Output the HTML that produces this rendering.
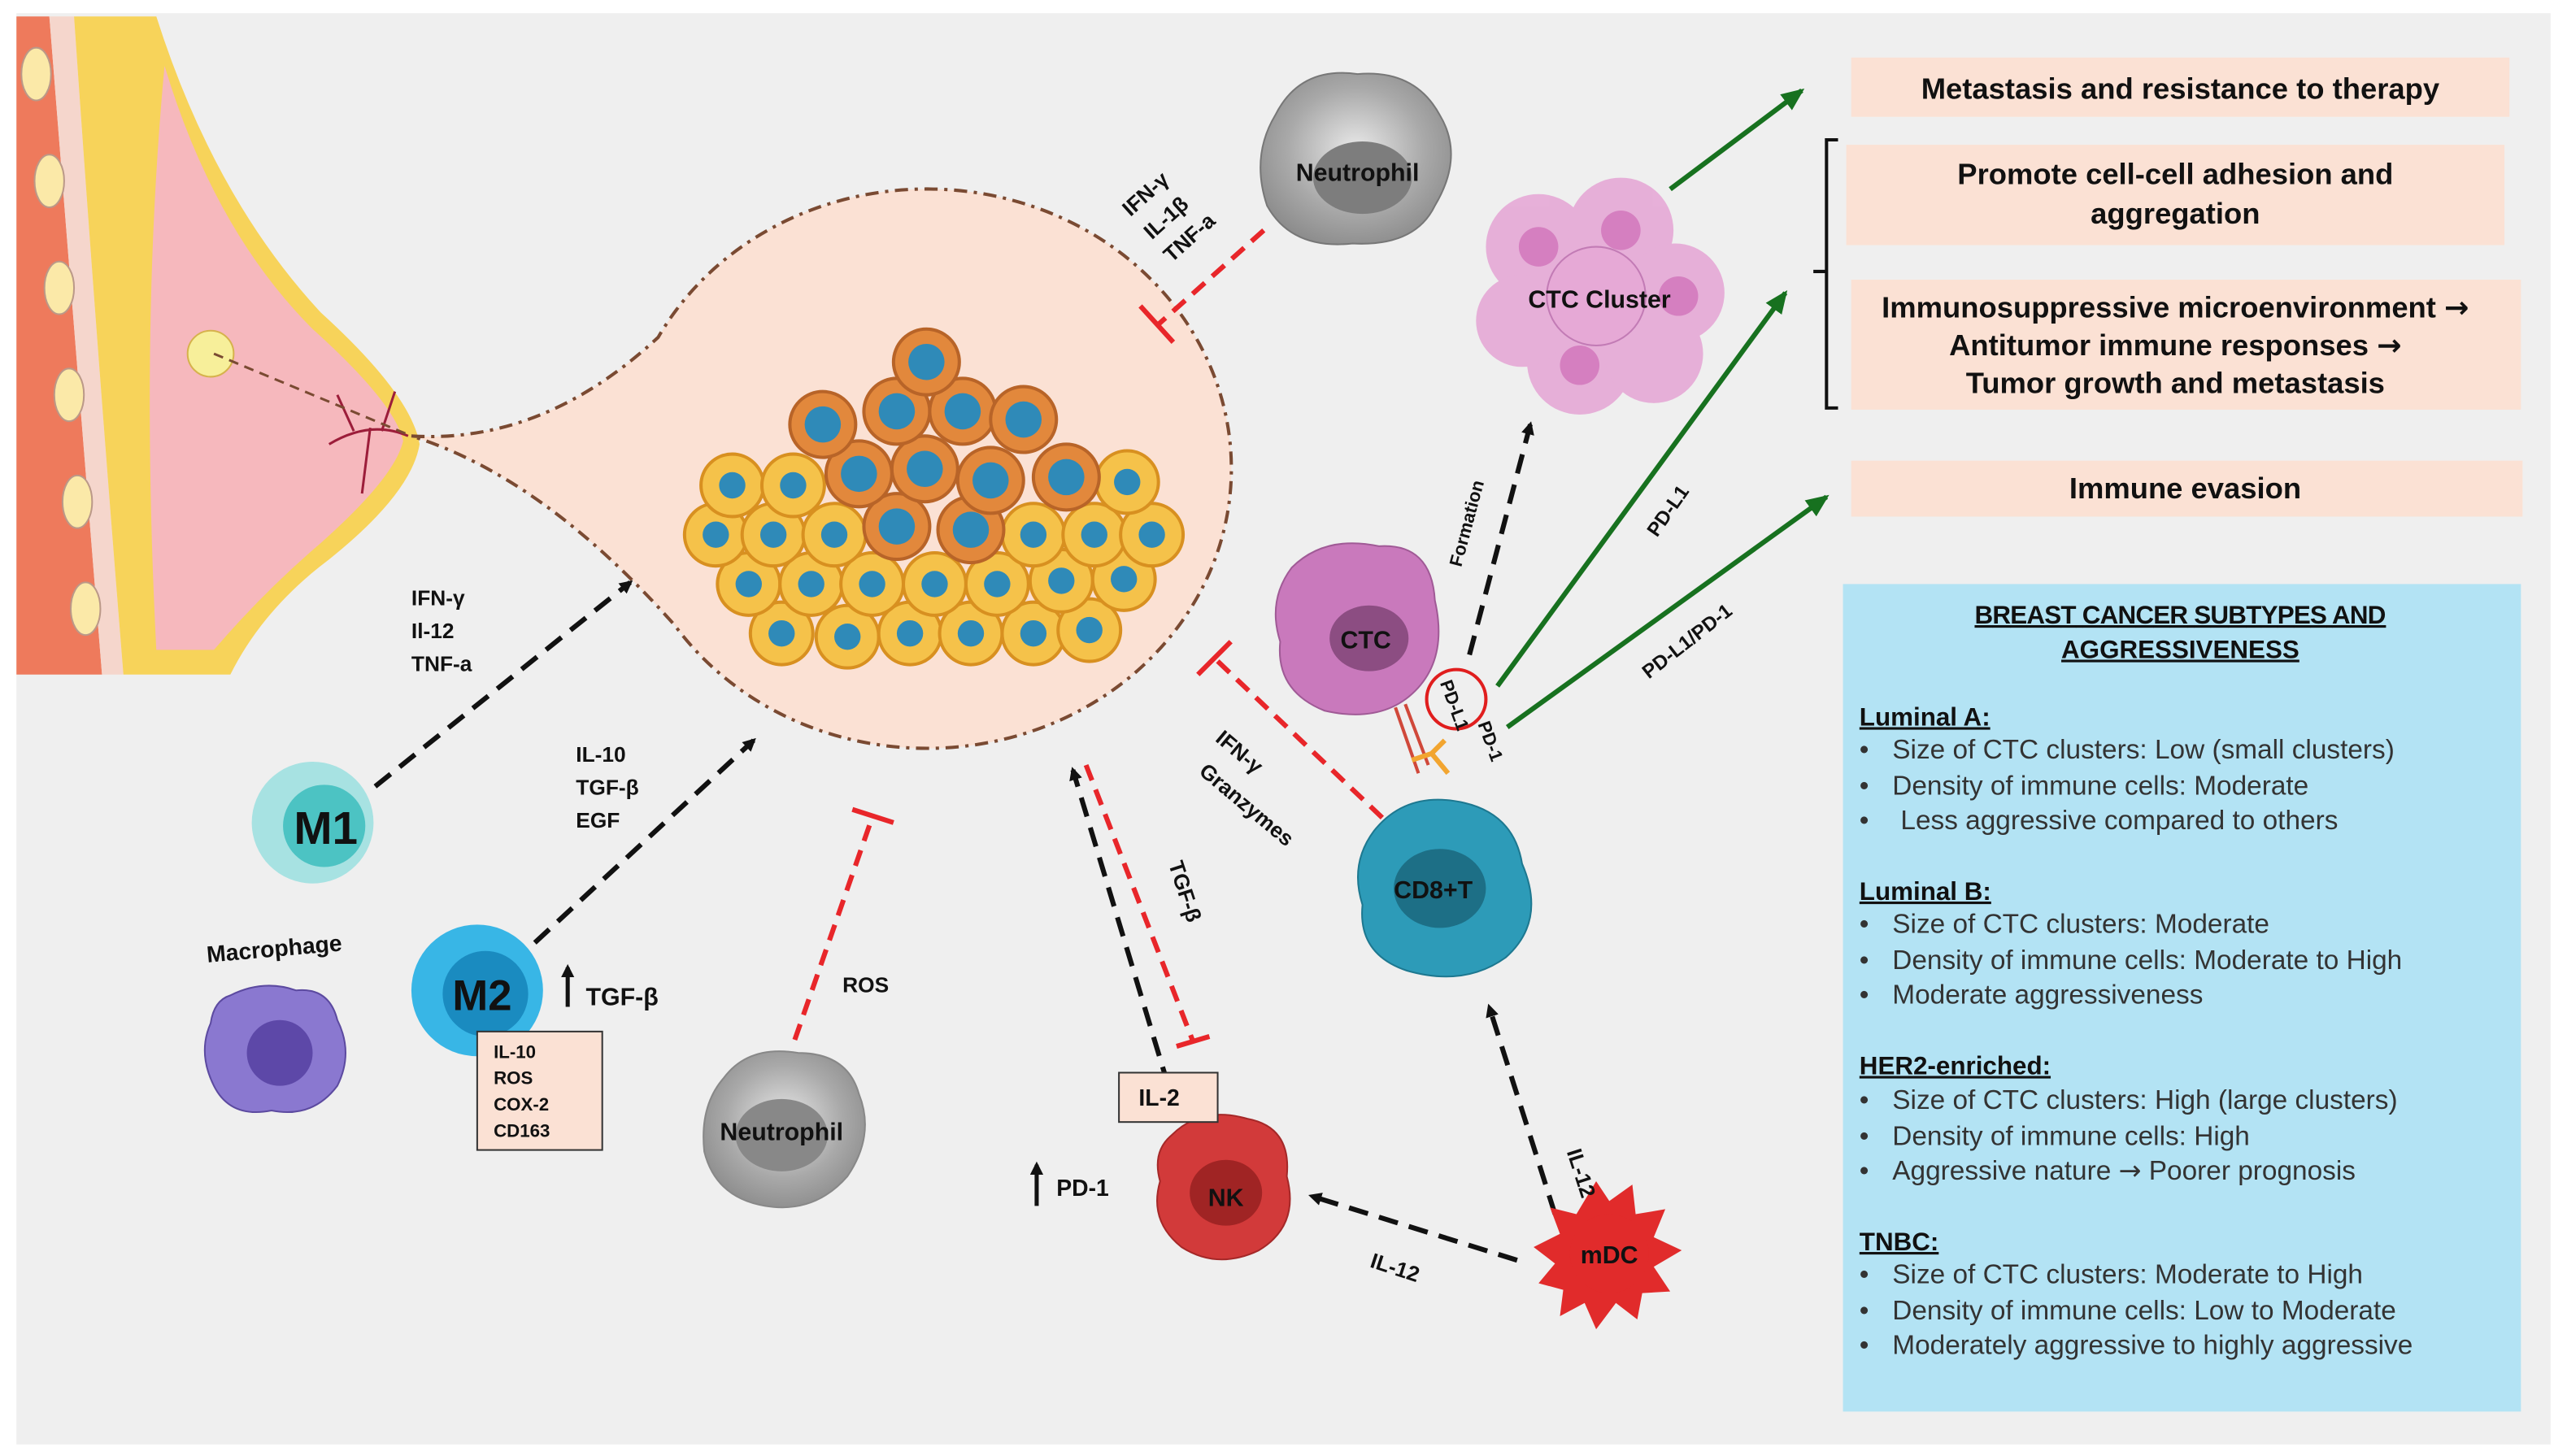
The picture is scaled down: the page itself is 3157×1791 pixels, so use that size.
<!DOCTYPE html>
<html><head><meta charset="utf-8"><style>
html,body{margin:0;padding:0;background:#fff;}
svg{display:block;}
text{font-family:"Liberation Sans",sans-serif;font-weight:bold;fill:#111;}
.n{font-weight:normal;fill:#333;}
</style></head><body>
<svg width="3157" height="1791" viewBox="0 0 1560 885" xmlns="http://www.w3.org/2000/svg">
<defs>
<marker id="ab" markerWidth="8" markerHeight="8" refX="6" refY="4" orient="auto" markerUnits="userSpaceOnUse"><path d="M0,0 L8,4 L0,8 z" fill="#111"/></marker>
<marker id="ag" markerWidth="14" markerHeight="12" refX="12" refY="6" orient="auto" markerUnits="userSpaceOnUse"><path d="M0,0 L14,6 L0,12 z" fill="#17711f"/></marker>
<radialGradient id="gy" cx="0.5" cy="0.45" r="0.6"><stop offset="0" stop-color="#e9e9e9"/><stop offset="0.6" stop-color="#a9a9a9"/><stop offset="1" stop-color="#8a8a8a"/></radialGradient>
</defs>
<rect x="0" y="0" width="1560" height="885" fill="#fff"/>
<rect x="10" y="8" width="1540" height="870" fill="#efefef"/>

<!-- breast -->
<rect x="10" y="10" width="245" height="400" fill="#efefef"/>
<path d="M10,10 L30,10 Q45,200 62,410 L10,410 Z" fill="#ee7a5c"/>
<path d="M30,10 L45,10 Q58,200 75,410 L62,410 Q45,200 30,10Z" fill="#f5d6cc"/>
<path d="M45,10 L95,10 Q130,120 195,190 Q250,240 255,270 Q250,300 200,340 Q160,370 140,410 L75,410 Q58,200 45,10Z" fill="#f7d35a"/>
<path d="M100,40 Q130,140 190,200 Q240,245 245,268 Q240,290 195,330 Q160,360 130,395 L95,395 Q85,200 100,40Z" fill="#f6b8bd"/>
<g fill="#fbe9a8" stroke="#b98" stroke-width="1">
<ellipse cx="22" cy="45" rx="9" ry="16"/><ellipse cx="30" cy="110" rx="9" ry="16"/><ellipse cx="36" cy="175" rx="9" ry="16"/><ellipse cx="42" cy="240" rx="9" ry="16"/><ellipse cx="47" cy="305" rx="9" ry="16"/><ellipse cx="52" cy="370" rx="9" ry="16"/>
</g>
<circle cx="128" cy="215" r="14" fill="#f7ef9a" stroke="#d6b24c"/>
<path d="M200,270 Q225,255 248,265 M215,262 L205,240 M225,260 L220,300 M232,262 L240,238" stroke="#9c1d3a" stroke-width="1.5" fill="none"/>

<!-- tumor bubble -->
<path d="M250,265 Q330,270 400,205 A185,170 0 1 1 410,380 Q330,290 250,265Z" fill="#fbe1d4" stroke="#7a4a32" stroke-width="2" stroke-dasharray="8,4,2,4"/>
<line x1="130" y1="215" x2="250" y2="265" stroke="#7a4a32" stroke-width="1.5" stroke-dasharray="6,4"/>

<!-- tumor cells -->
<g stroke="#d89020" stroke-width="2">
<g fill="#f5c24a">
<circle cx="475" cy="385" r="19"/><circle cx="515" cy="387" r="19"/><circle cx="553" cy="385" r="19"/><circle cx="590" cy="385" r="19"/><circle cx="628" cy="385" r="19"/><circle cx="662" cy="383" r="19"/>
<circle cx="455" cy="355" r="19"/><circle cx="493" cy="355" r="19"/><circle cx="530" cy="355" r="19"/><circle cx="568" cy="355" r="19"/><circle cx="606" cy="355" r="19"/><circle cx="645" cy="353" r="19"/><circle cx="683" cy="352" r="19"/>
<circle cx="435" cy="325" r="19"/><circle cx="470" cy="325" r="19"/><circle cx="507" cy="325" r="19"/><circle cx="628" cy="325" r="19"/><circle cx="665" cy="325" r="19"/><circle cx="700" cy="325" r="19"/>
<circle cx="445" cy="295" r="19"/><circle cx="482" cy="295" r="19"/><circle cx="685" cy="293" r="19"/>
</g>
<g fill="#e2883c" stroke="#b86428">
<circle cx="545" cy="320" r="20"/><circle cx="590" cy="322" r="20"/>
<circle cx="522" cy="288" r="20"/><circle cx="562" cy="285" r="20"/><circle cx="602" cy="292" r="20"/><circle cx="648" cy="290" r="20"/>
<circle cx="500" cy="258" r="20"/><circle cx="545" cy="250" r="20"/><circle cx="585" cy="250" r="20"/><circle cx="622" cy="255" r="20"/>
<circle cx="563" cy="220" r="20"/>
</g>
</g>
<g fill="#2f8ab8">
<circle cx="475" cy="385" r="8"/><circle cx="515" cy="387" r="8"/><circle cx="553" cy="385" r="8"/><circle cx="590" cy="385" r="8"/><circle cx="628" cy="385" r="8"/><circle cx="662" cy="383" r="8"/>
<circle cx="455" cy="355" r="8"/><circle cx="493" cy="355" r="8"/><circle cx="530" cy="355" r="8"/><circle cx="568" cy="355" r="8"/><circle cx="606" cy="355" r="8"/><circle cx="645" cy="353" r="8"/><circle cx="683" cy="352" r="8"/>
<circle cx="435" cy="325" r="8"/><circle cx="470" cy="325" r="8"/><circle cx="507" cy="325" r="8"/><circle cx="628" cy="325" r="8"/><circle cx="665" cy="325" r="8"/><circle cx="700" cy="325" r="8"/>
<circle cx="445" cy="295" r="8"/><circle cx="482" cy="295" r="8"/><circle cx="685" cy="293" r="8"/>
<circle cx="545" cy="320" r="11"/><circle cx="590" cy="322" r="11"/><circle cx="522" cy="288" r="11"/><circle cx="562" cy="285" r="11"/><circle cx="602" cy="292" r="11"/><circle cx="648" cy="290" r="11"/><circle cx="500" cy="258" r="11"/><circle cx="545" cy="250" r="11"/><circle cx="585" cy="250" r="11"/><circle cx="622" cy="255" r="11"/><circle cx="563" cy="220" r="11"/>
</g>

<!-- black dashed arrows -->
<g stroke="#111" stroke-width="3" stroke-dasharray="12,7" fill="none" marker-end="url(#ab)">
<line x1="228" y1="478" x2="383" y2="354"/>
<line x1="325" y1="573" x2="458" y2="450"/>
<line x1="710" y1="660" x2="652" y2="468"/>
<line x1="922" y1="766" x2="797" y2="727"/>
<line x1="945" y1="738" x2="905" y2="612"/>
<line x1="893" y1="398" x2="930" y2="258"/>
</g>
<!-- red inhibit lines -->
<g stroke="#e8262a" stroke-width="3" fill="none">
<line x1="768" y1="140" x2="703" y2="198" stroke-dasharray="10,6"/><line x1="693" y1="186" x2="713" y2="208"/>
<line x1="840" y1="497" x2="738" y2="400" stroke-dasharray="10,6"/><line x1="728" y1="410" x2="748" y2="390"/>
<line x1="483" y1="632" x2="530" y2="497" stroke-dasharray="10,6"/><line x1="518" y1="492" x2="543" y2="500"/>
<line x1="660" y1="465" x2="725" y2="633" stroke-dasharray="10,6"/><line x1="715" y1="636" x2="735" y2="630"/>
</g>
<!-- green arrows -->
<g stroke="#17711f" stroke-width="3" fill="none" marker-end="url(#ag)">
<line x1="1015" y1="115" x2="1095" y2="55"/>
<line x1="910" y1="417" x2="1085" y2="178"/>
<line x1="916" y1="442" x2="1110" y2="302"/>
</g>

<!-- cells -->
<path d="M775,70 Q790,40 825,45 Q860,42 875,70 Q890,95 872,125 Q860,150 822,148 Q785,152 770,125 Q760,95 775,70Z" fill="url(#gy)" stroke="#777"/>
<ellipse cx="828" cy="108" rx="30" ry="22" fill="#7d7d7d"/>
<text x="825" y="110" font-size="15" text-anchor="middle">Neutrophil</text>

<g fill="#e6a9d6" opacity="0.9">
<circle cx="935" cy="150" r="32"/><circle cx="985" cy="140" r="32"/><circle cx="1018" cy="178" r="30"/><circle cx="960" cy="220" r="32"/><circle cx="1005" cy="215" r="30"/><circle cx="925" cy="195" r="28"/>
</g>
<g fill="#d57fc0"><circle cx="935" cy="150" r="12"/><circle cx="985" cy="140" r="12"/><circle cx="1020" cy="180" r="12"/><circle cx="960" cy="222" r="12"/></g>
<circle cx="970" cy="180" r="30" fill="#e6a9d6" stroke="#c27bb5"/>
<text x="972" y="187" font-size="15" text-anchor="middle">CTC Cluster</text>

<path d="M785,345 Q805,325 838,332 Q870,330 872,365 Q880,400 860,420 Q840,440 805,432 Q775,420 778,390 Q770,365 785,345Z" fill="#c979bc" stroke="#a05a96"/>
<ellipse cx="832" cy="388" rx="24" ry="20" fill="#8c4d82"/>
<text x="830" y="394" font-size="15" text-anchor="middle">CTC</text>
<path d="M848,430 L862,470 M854,428 L868,465" stroke="#d0483a" stroke-width="2"/>
<path d="M858,462 L870,458 L880,470 M870,458 L878,450" stroke="#f2a530" stroke-width="3" fill="none"/>
<circle cx="885" cy="425" r="18" fill="none" stroke="#e01e1e" stroke-width="2"/>
<text transform="translate(875,415) rotate(70)" font-size="11">PD-L1</text>
<text transform="translate(898,440) rotate(70)" font-size="11">PD-1</text>

<path d="M835,505 Q855,480 890,488 Q920,495 925,525 Q940,560 915,582 Q890,600 855,590 Q825,580 828,550 Q820,525 835,505Z" fill="#2d9bb8" stroke="#1d7890"/>
<ellipse cx="875" cy="540" rx="28" ry="24" fill="#1d6f86"/>
<text x="871" y="546" font-size="15" text-anchor="middle">CD8+T</text>

<path d="M970,718 L978,730 L992,720 L994,738 L1012,735 L1005,752 L1022,760 L1005,770 L1015,785 L998,786 L995,802 L982,792 L970,808 L963,792 L948,800 L950,784 L935,780 L945,768 L932,758 L948,750 L942,734 L958,738Z" fill="#e12b2b"/>
<circle cx="978" cy="762" r="24" fill="#e12b2b"/>
<text x="978" y="768" font-size="15" text-anchor="middle">mDC</text>

<path d="M712,690 Q730,672 758,680 Q785,685 782,715 Q790,745 765,760 Q740,772 718,758 Q698,742 705,718 Q700,700 712,690Z" fill="#d23a3a" stroke="#a52828"/>
<ellipse cx="745" cy="725" rx="22" ry="20" fill="#a02424"/>
<text x="745" y="733" font-size="15" text-anchor="middle">NK</text>
<rect x="680" y="652" width="60" height="30" fill="#fbe1d4" stroke="#333"/>
<text x="692" y="672" font-size="14">IL-2</text>
<line x1="630" y1="733" x2="630" y2="708" stroke="#111" stroke-width="2.5" marker-end="url(#ab)"/>
<text x="642" y="727" font-size="14">PD-1</text>

<path d="M440,655 Q455,635 485,640 Q515,640 522,665 Q532,690 515,715 Q495,738 465,733 Q435,728 428,700 Q425,672 440,655Z" fill="url(#gy)" stroke="#888"/>
<ellipse cx="475" cy="690" rx="28" ry="22" fill="#888"/>
<text x="475" y="693" font-size="15" text-anchor="middle">Neutrophil</text>

<circle cx="190" cy="500" r="37" fill="#a7e2e2"/>
<circle cx="197" cy="502" r="25" fill="#4cc3c3"/>
<text x="198" y="513" font-size="28" text-anchor="middle">M1</text>
<circle cx="290" cy="602" r="40" fill="#38b6e6"/>
<circle cx="295" cy="604" r="26" fill="#1a8bc0"/>
<text x="293" y="614" font-size="26" text-anchor="middle">M2</text>
<line x1="345" y1="612" x2="345" y2="588" stroke="#111" stroke-width="2.5" marker-end="url(#ab)"/>
<text x="356" y="611" font-size="15">TGF-β</text>
<rect x="290" y="627" width="76" height="72" fill="#fbe1d4" stroke="#333"/>
<g font-size="11"><text x="300" y="643">IL-10</text><text x="300" y="659">ROS</text><text x="300" y="675">COX-2</text><text x="300" y="691">CD163</text></g>

<text transform="translate(126,585) rotate(-5)" font-size="14">Macrophage</text>
<path d="M140,605 Q160,595 180,602 Q200,600 205,620 Q215,640 205,660 Q190,680 165,675 Q140,680 130,660 Q120,640 128,622 Q130,608 140,605Z" fill="#8a78d0" stroke="#5c4aa0"/>
<circle cx="170" cy="640" r="20" fill="#5d48a8"/>

<!-- labels -->
<g font-size="13">
<text x="250" y="368">IFN-γ</text><text x="250" y="388">Il-12</text><text x="250" y="408">TNF-a</text>
<text x="350" y="463">IL-10</text><text x="350" y="483">TGF-β</text><text x="350" y="503">EGF</text>
<text x="512" y="603">ROS</text>
<text transform="translate(710,525) rotate(72)">TGF-β</text>
<text transform="translate(738,450) rotate(40)">IFN-γ</text>
<text transform="translate(728,470) rotate(40)">Granzymes</text>
<text transform="translate(687,132) rotate(-42)">IFN-γ</text>
<text transform="translate(700,146) rotate(-42)">IL-1β</text>
<text transform="translate(712,160) rotate(-42)">TNF-a</text>
<text transform="translate(952,700) rotate(72)">IL-12</text>
<text transform="translate(832,770) rotate(18)">IL-12</text>
<text transform="translate(888,345) rotate(-75)" font-size="11">Formation</text>
<text transform="translate(1007,327) rotate(-55)" font-size="12">PD-L1</text>
<text transform="translate(1002,413) rotate(-38)" font-size="12">PD-L1/PD-1</text>
</g>

<!-- right boxes -->
<rect x="1125" y="35" width="400" height="36" fill="#fbe1d4"/>
<text x="1325" y="60" font-size="18" text-anchor="middle">Metastasis and resistance to therapy</text>
<rect x="1122" y="88" width="400" height="61" fill="#fbe1d4"/>
<text x="1322" y="112" font-size="18" text-anchor="middle">Promote cell-cell adhesion and</text>
<text x="1322" y="136" font-size="18" text-anchor="middle">aggregation</text>
<rect x="1125" y="170" width="407" height="79" fill="#fbe1d4"/>
<text x="1322" y="193" font-size="18" text-anchor="middle">Immunosuppressive microenvironment <tspan font-family="DejaVu Sans">→</tspan></text>
<text x="1322" y="216" font-size="18" text-anchor="middle">Antitumor immune responses <tspan font-family="DejaVu Sans">→</tspan></text>
<text x="1322" y="239" font-size="18" text-anchor="middle">Tumor growth and metastasis</text>
<path d="M1117,85 L1110,85 L1110,248 L1117,248 M1110,165 L1102,165" stroke="#111" stroke-width="2" fill="none"/>
<rect x="1125" y="280" width="408" height="34" fill="#fbe1d4"/>
<text x="1328" y="303" font-size="18" text-anchor="middle">Immune evasion</text>

<rect x="1120" y="355" width="412" height="503" fill="#b3e3f4"/>
<g font-size="15.5" fill="#222">
<text x="1325" y="379" text-anchor="middle" text-decoration="underline" textLength="250">BREAST CANCER SUBTYPES AND</text>
<text x="1325" y="400" text-anchor="middle" text-decoration="underline">AGGRESSIVENESS</text>
<text x="1130" y="441" text-decoration="underline">Luminal A:</text>
<text x="1130" y="547" text-decoration="underline">Luminal B:</text>
<text x="1130" y="653" text-decoration="underline">HER2-enriched:</text>
<text x="1130" y="760" text-decoration="underline">TNBC:</text>
</g>
<g font-size="16.5">
<text class="n" x="1130" y="461">•</text><text class="n" x="1150" y="461">Size of CTC clusters: Low (small clusters)</text>
<text class="n" x="1130" y="483">•</text><text class="n" x="1150" y="483">Density of immune cells: Moderate</text>
<text class="n" x="1130" y="504">•</text><text class="n" x="1155" y="504">Less aggressive compared to others</text>
<text class="n" x="1130" y="567">•</text><text class="n" x="1150" y="567">Size of CTC clusters: Moderate</text>
<text class="n" x="1130" y="589">•</text><text class="n" x="1150" y="589">Density of immune cells: Moderate to High</text>
<text class="n" x="1130" y="610">•</text><text class="n" x="1150" y="610">Moderate aggressiveness</text>
<text class="n" x="1130" y="674">•</text><text class="n" x="1150" y="674">Size of CTC clusters: High (large clusters)</text>
<text class="n" x="1130" y="696">•</text><text class="n" x="1150" y="696">Density of immune cells: High</text>
<text class="n" x="1130" y="717">•</text><text class="n" x="1150" y="717">Aggressive nature <tspan font-family="DejaVu Sans">→</tspan> Poorer prognosis</text>
<text class="n" x="1130" y="780">•</text><text class="n" x="1150" y="780">Size of CTC clusters: Moderate to High</text>
<text class="n" x="1130" y="802">•</text><text class="n" x="1150" y="802">Density of immune cells: Low to Moderate</text>
<text class="n" x="1130" y="823">•</text><text class="n" x="1150" y="823">Moderately aggressive to highly aggressive</text>
</g>
</svg>
</body></html>
